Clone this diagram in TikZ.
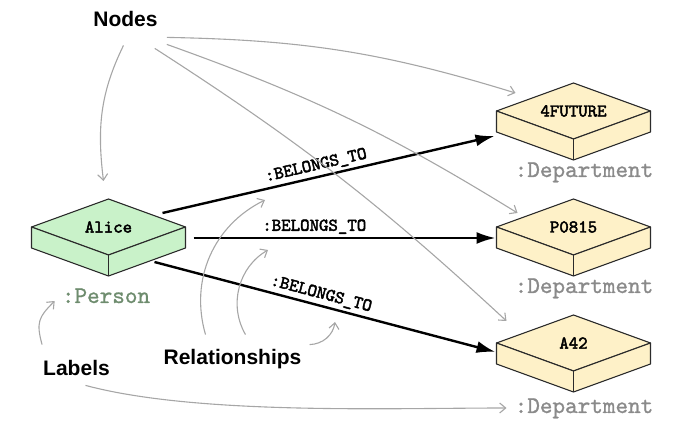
\documentclass[tikz,border=0pt]{standalone}
\usepackage{fontspec}
\setmainfont{Liberation Sans}
\newfontfamily\heavytt{lmmono10-regular.otf}[FakeBold=2.5]
\newfontfamily\typett{lmmono10-regular.otf}[FakeBold=1]
\usetikzlibrary{shapes.geometric,arrows.meta,positioning}
\definecolor{personfill}{HTML}{C9F2C9}
\definecolor{deptfill}{HTML}{FEF1C8}
\definecolor{persontext}{HTML}{6E8C6E}
\definecolor{depttext}{HTML}{8A8A8A}
\definecolor{notegray}{HTML}{A6A6A6}
\definecolor{edgeline}{HTML}{2B2B2B}
\tikzset{
  entity/.style={diamond, aspect=2.75, draw=edgeline, line width=1.1pt,
    line join=round, inner sep=0pt, outer sep=0pt,
    minimum width=154pt, minimum height=56pt,
    font=\fontsize{18}{20}\selectfont\heavytt},
  person/.style={entity, fill=personfill},
  dept/.style={entity, fill=deptfill},
  typelabel/.style={inner sep=0pt, anchor=base,
    font=\fontsize{24}{26}\selectfont\typett},
  caption/.style={inner sep=0pt, anchor=base,
    font=\fontsize{21}{24}\selectfont\bfseries},
  belongs/.style={line width=2.4pt, -{Latex[length=19pt,width=12pt]}},
  reltext/.style={sloped, above, inner sep=3pt,
    font=\fontsize{18}{20}\selectfont\heavytt},
  pointer/.style={notegray, line width=1.1pt,
    -{Straight Barb[length=6pt,width=10pt]}}
}

\begin{document}
\begin{tikzpicture}[x=1pt,y=1pt]
  \useasboundingbox (0,0) rectangle (700,430);
  \node[person] (alice)  at (108.5,203) {Alice};
  \node[dept]   (future) at (573.5,319) {4FUTURE};
  \node[dept]   (p0815)  at (573.5,203) {P0815};
  \node[dept]   (a42)    at (573.5,87)  {A42};
  \foreach \b/\c in {alice/personfill,future/deptfill,p0815/deptfill,a42/deptfill}{
    \draw[edgeline, line width=1.1pt, line join=round, fill=\c]
      (\b.west) -- (\b.south) -- (\b.east) -- ([yshift=-21pt]\b.east)
      -- ([yshift=-21pt]\b.south) -- ([yshift=-21pt]\b.west) -- cycle;
    \draw[edgeline, line width=1.1pt] (\b.south) -- ([yshift=-21pt]\b.south);
  }
  \node[typelabel, text=persontext] (alicetype)  at (106,127) {:Person};
  \node[typelabel, text=depttext]   (futuretype) at (584,253) {:Department};
  \node[typelabel, text=depttext]   (p0815type)  at (584,137) {:Department};
  \node[typelabel, text=depttext]   (a42type)    at (584,17)  {:Department};

  \node[caption] (nodes)  at (125.5,403) {Nodes};
  \node[caption] (labels) at (76.5,54)   {Labels};
  \node[caption] (rels)   at (232.5,65)  {Relationships};

  % relationships
  \draw[belongs] ([shift={(54pt,14pt)}]alice.center) -- node[reltext, pos=0.47] {:BELONGS\_TO} ([shift={(-2pt,-25pt)}]future.west);
  \draw[belongs] ([shift={(8pt,-11pt)}]alice.east) -- node[reltext, pos=0.40] {:BELONGS\_TO} ([shift={(-1pt,-11pt)}]p0815.west);
  \draw[belongs] ([shift={(46pt,-7pt)}]alice.south) -- node[reltext, pos=0.48] {:BELONGS\_TO} ([shift={(-1pt,-9pt)}]a42.west);

  % pointers from the captions
  \draw[pointer] ([shift={(-2pt,-18pt)}]nodes.south) to[out=244,in=97] ([shift={(-5pt,18pt)}]alice.north);
  \draw[pointer] ([shift={(9pt,-10pt)}]nodes.south east) to[bend left=8] ([shift={(19pt,18pt)}]future.west);
  \draw[pointer] ([shift={(9pt,-17pt)}]nodes.south east) to[bend left=6] ([shift={(21pt,14pt)}]p0815.west);
  \draw[pointer] ([shift={(-3pt,-21pt)}]nodes.south east) to[bend left=5] ([shift={(10pt,22pt)}]a42.west);

  \coordinate (relhint1) at (265,230);
  \coordinate (relhint2) at (268,180);
  \coordinate (relhint3) at (335,108);
  \draw[pointer] ([shift={(-27pt,15pt)}]rels.north) to[bend left=40] (relhint1);
  \draw[pointer] ([shift={(13pt,15pt)}]rels.north) to[bend left=45] (relhint2);
  \draw[pointer] ([shift={(8pt,5pt)}]rels.north east) to[bend right=40] (relhint3);

  \draw[pointer] ([shift={(-1pt,16pt)}]labels.north west) to[out=105,in=225,looseness=1.3] ([shift={(-7pt,2pt)}]alicetype.base west);
  \draw[pointer] ([shift={(9pt,-9pt)}]labels.south) to[out=-15,in=180,looseness=0.7] ([shift={(-8pt,5pt)}]a42type.base west);
\end{tikzpicture}
\end{document}
